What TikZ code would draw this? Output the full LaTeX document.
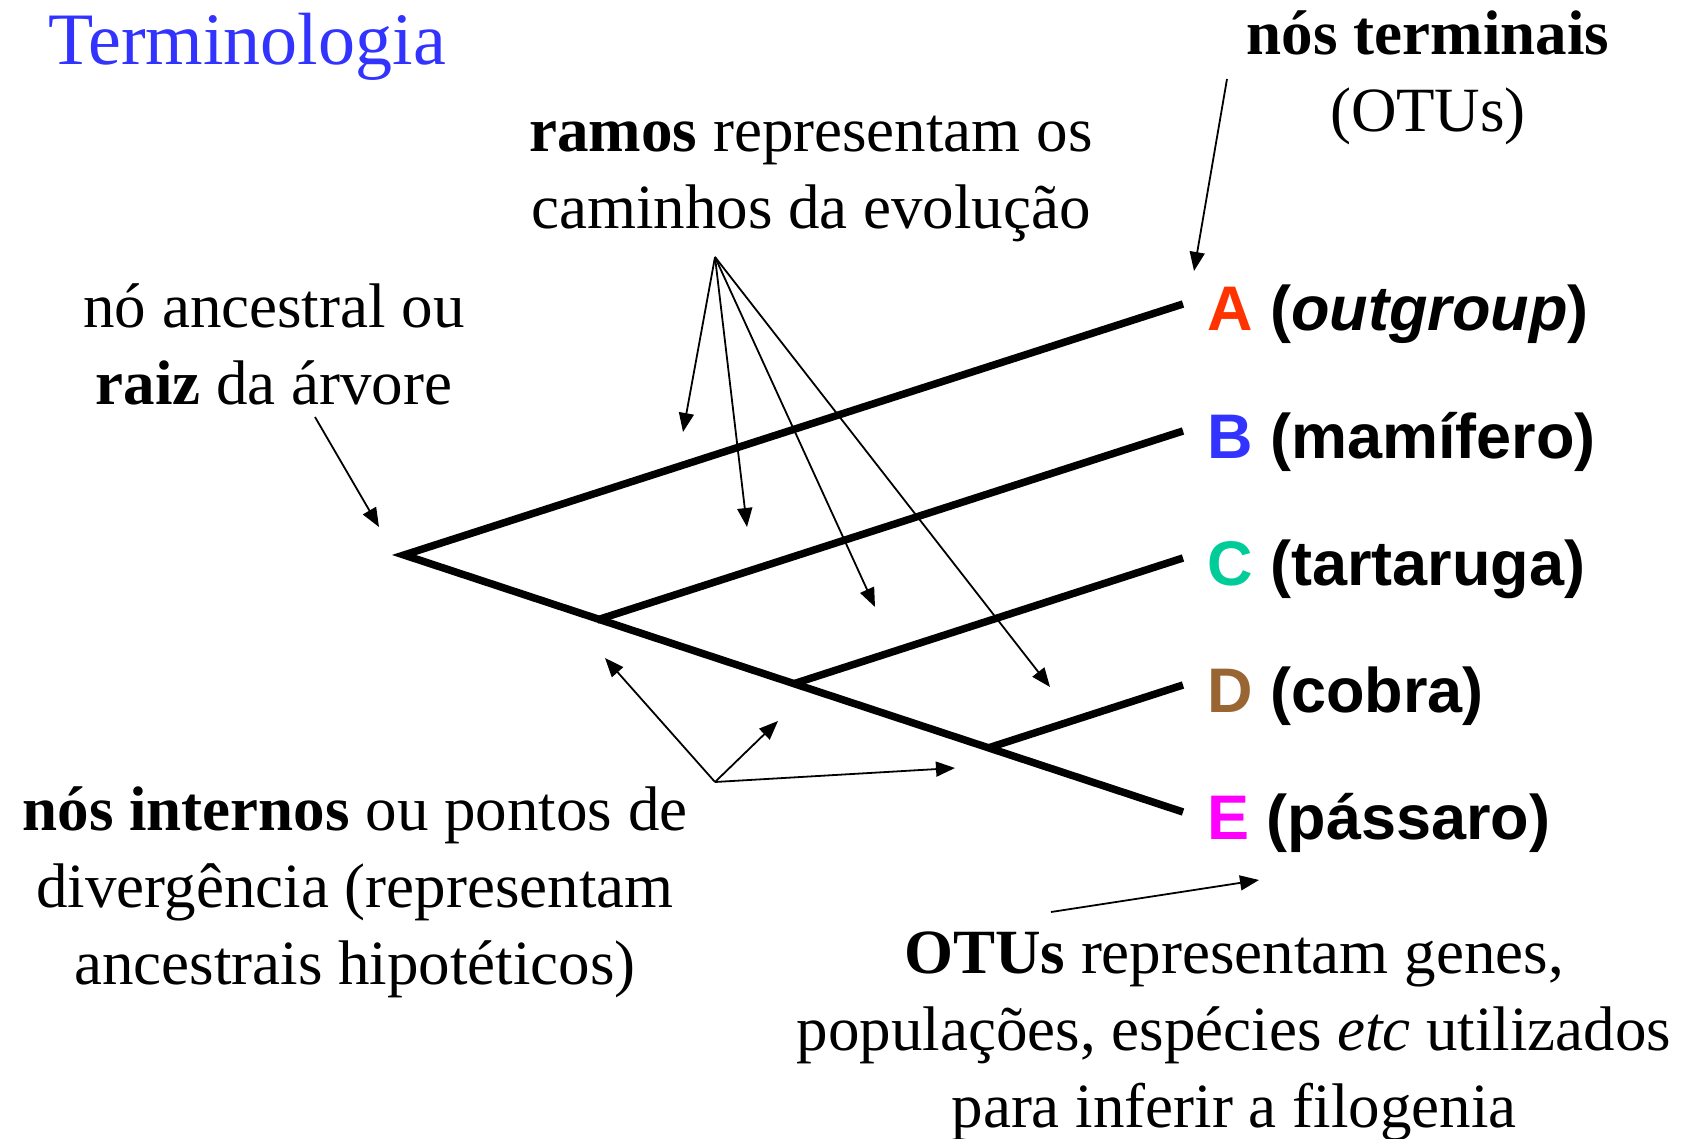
\documentclass[tikz,border=0pt]{standalone}
\usepackage{fontspec}
\setmainfont{Liberation Serif}
\setsansfont{Liberation Sans}
\usetikzlibrary{arrows.meta}
\definecolor{tBlue}{HTML}{3333FF}
\definecolor{tRed}{HTML}{FF3300}
\definecolor{tGreen}{HTML}{00CC99}
\definecolor{tBrown}{HTML}{996633}
\definecolor{tMagenta}{HTML}{FF00FF}

\begin{document}
\begin{tikzpicture}[x=1pt,y=-1pt,
  txt/.style={font=\fontsize{63}{77}\selectfont,align=center,inner sep=0pt},
  otu/.style={font=\fontsize{63}{77}\selectfont\sffamily\bfseries,anchor=base west,inner sep=0pt},
  branch/.style={line width=7.5pt},
  ptr/.style={-{Triangle[length=19pt,width=15pt]},line width=1.8pt}]
  \useasboundingbox (0,0) rectangle (1687,1139);
  \node[font=\fontsize{74}{88}\selectfont,text=tBlue,anchor=base west,inner sep=0pt] (title) at (48,65) {Terminologia};
  % leaves
  \foreach \n/\y/\c/\t in {A/331/tRed/{(\textit{outgroup})},B/458/tBlue/{(mamífero)},
      C/585/tGreen/{(tartaruga)},D/712/tBrown/{(cobra)},E/839/tMagenta/{(pássaro)}}{
    \node[otu] (\n) at (1207,\y) {\textcolor{\c}{\n} \t};
    \coordinate (tip\n) at (1183,\y-27);
  }
  \coordinate (root) at (404,555);
  \coordinate (n1) at (597,620);
  \coordinate (n2) at (793,684);
  \coordinate (n3) at (988,748);
  \draw[branch] (tipA) -- (root) -- (tipE);
  \draw[branch] (n1) -- (tipB);
  \draw[branch] (n2) -- (tipC);
  \draw[branch] (n3) -- (tipD);
  % labels
  \node[txt] (terminais) at (1428,78) {\textbf{nós terminais}\\(OTUs)};
  \node[txt] (ramos) at (811,179) {\textbf{ramos} representam os\\caminhos da evolução};
  \node[txt] (ancestral) at (274,344) {nó ancestral ou\\\textbf{raiz} da árvore};
  \node[txt] (internos) at (355,892) {\textbf{nós internos} ou pontos de\\divergência (representam\\ancestrais hipotéticos)};
  \node[txt] (otus) at (1234,1036) {\textbf{OTUs} representam genes,\\populações, espécies \textit{etc} utilizados\\para inferir a filogenia};
  % pointers
  \coordinate (tFoot) at (1227,79);   \coordinate (tHead) at (1194,271);
  \coordinate (aFoot) at (315,417);   \coordinate (aHead) at (379,527);
  \coordinate (oFoot) at (1051,912);  \coordinate (oHead) at (1259,880);
  \coordinate (rFoot) at (715,257);
  \coordinate (r1) at (683,432);
  \coordinate (r2) at (747,527);
  \coordinate (r3) at (875,607);
  \coordinate (r4) at (1050,687);
  \coordinate (iFoot) at (715,782);
  \coordinate (i1) at (605,658);
  \coordinate (i2) at (778,721);
  \coordinate (i3) at (955,768);
  \draw[ptr] (tFoot) -- (tHead);
  \draw[ptr] (aFoot) -- (aHead);
  \draw[ptr] (oFoot) -- (oHead);
  \foreach \t in {r1,r2,r3,r4}{\draw[ptr] (rFoot) -- (\t);}
  \foreach \t in {i1,i2,i3}{\draw[ptr] (iFoot) -- (\t);}
\end{tikzpicture}
\end{document}
